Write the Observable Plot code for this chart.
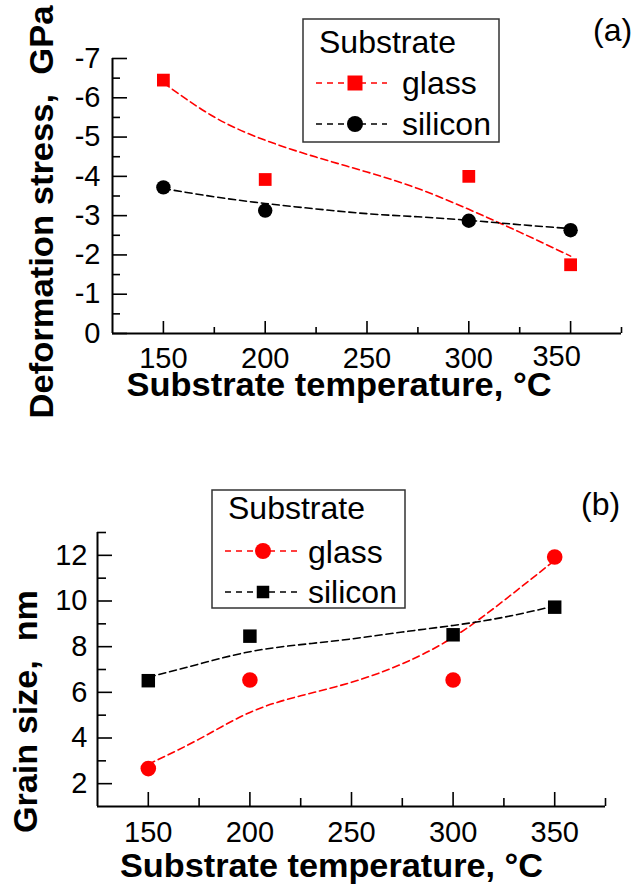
<!DOCTYPE html>
<html><head><meta charset="utf-8">
<script src="https://cdn.jsdelivr.net/npm/d3@7"></script>
<script src="https://cdn.jsdelivr.net/npm/@observablehq/plot@0.6"></script>
<style>
html,body{margin:0;padding:0;background:#fff;}
#wrap{position:relative;width:634px;height:884px;overflow:hidden;font-family:"Liberation Sans",Arial,sans-serif;background:#fff;}
.panel{position:absolute;left:0;}
.panel svg{display:block;}
#overlay{position:absolute;left:0;top:0;pointer-events:none;}
</style></head><body><div id="wrap"></div>
<script>
// ---- data ----
const temps = [150, 200, 300, 350];
const stressGlass = [-6.45, -3.92, -4.0, -1.75];
const stressSilicon = [-3.72, -3.13, -2.87, -2.63];
const fitTemps = [150, 175, 200, 225, 250, 275, 300, 325, 350];
const stressGlassFit = [-6.38, -5.51, -4.92, -4.49, -4.11, -3.69, -3.16, -2.58, -1.97];
const stressSiliconFit = [-3.69, -3.48, -3.31, -3.17, -3.05, -2.97, -2.88, -2.77, -2.67];
const grainGlass = [2.66, 6.54, 6.54, 11.93];
const grainSilicon = [6.51, 8.46, 8.52, 9.73];
const grainGlassFit = [2.85, 3.95, 5.12, 5.85, 6.44, 7.25, 8.41, 10.02, 11.78];
const grainSiliconFit = [6.66, 7.24, 7.78, 8.09, 8.34, 8.64, 8.93, 9.29, 9.78];
const xDomain = [125, 375];
const xTicks = [150, 200, 250, 300, 350];
const xMinor = [175, 225, 275, 325, 375];
const stressTicks = [0, -1, -2, -3, -4, -5, -6, -7];
const stressMinor = [-0.5, -1.5, -2.5, -3.5, -4.5, -5.5, -6.5];
const grainTicks = [2, 4, 6, 8, 10, 12];
const grainMinor = [3, 5, 7, 9, 11, 13];
const xTitle = "Substrate temperature, \u00B0C";
const stressTitle = "Deformation stress,  GPa";
const grainTitle = "Grain size,  nm";
const seriesNames = ["glass", "silicon"];
const legendTitle = "Substrate";

const RED = "#ff0000", BLACK = "#000000";
const rows = (xs, ys) => xs.map((x, i) => ({x, y: ys[i]}));
const FONT = "'Liberation Sans', Arial, sans-serif";

function panel(o) {
  const mainX = o.shiftLast ? xTicks.slice(0, -1) : xTicks;
  const marks = [
    Plot.ruleX([xDomain[0]], {stroke: BLACK, strokeWidth: 2}),
    Plot.ruleY([o.yDomain[0]], {stroke: BLACK, strokeWidth: 2}),
    Plot.axisX({ticks: xTicks, tickSize: -o.xMajor, tickFormat: () => "", strokeWidth: 1.6, label: null}),
    Plot.axisX({ticks: xMinor, tickSize: -o.xMinorLen, tickFormat: () => "", strokeWidth: 1.6, label: null}),
    Plot.axisY({ticks: o.yTicks, tickSize: -o.yMajor, tickFormat: () => "", strokeWidth: 1.6, label: null}),
    Plot.axisY({ticks: o.yMinor, tickSize: -o.yMinorLen, tickFormat: () => "", strokeWidth: 1.6, label: null}),
    Plot.axisX({ticks: mainX, tickSize: 0, tickPadding: o.xPad, fontSize: o.tickFont, tickFormat: d => String(d), label: null}),
    Plot.axisY({ticks: o.yTicks, tickSize: 0, tickPadding: o.yPad, fontSize: o.tickFont, tickFormat: d => String(d), label: null}),
    Plot.line(rows(fitTemps, o.glassFit), {x: "x", y: "y", curve: "natural", stroke: RED, strokeWidth: 1.6, strokeDasharray: "7,4"}),
    Plot.line(rows(fitTemps, o.siliconFit), {x: "x", y: "y", curve: "natural", stroke: BLACK, strokeWidth: 1.6, strokeDasharray: "7,4"}),
    Plot.dot(rows(temps, o.glass), {x: "x", y: "y", symbol: o.glassSym, r: o.glassR, fill: RED, stroke: "none"}),
    Plot.dot(rows(temps, o.silicon), {x: "x", y: "y", symbol: o.siliconSym, r: o.siliconR, fill: BLACK, stroke: "none"}),
    Plot.text([xTitle], {text: d => d, frameAnchor: "bottom", textAnchor: "middle", dx: o.xtDx, dy: o.xtDy, lineAnchor: "bottom", fontSize: 33, fontWeight: "bold", fill: BLACK}),
    Plot.text([o.yTitle], {text: d => d, frameAnchor: "left", textAnchor: "middle", rotate: -90, dx: o.ytDx, dy: o.ytDy, lineAnchor: "bottom", fontSize: 34, fontWeight: "bold", fill: BLACK})
  ];
  if (o.shiftLast) {
    // the last tick label sits slightly left of and above its tick in the reference
    marks.push(Plot.text(xTicks.slice(-1), {x: d => d, y: () => o.yDomain[0], text: d => String(d),
      textAnchor: "middle", lineAnchor: "top", dx: -14, dy: o.xPad - 2, fontSize: o.tickFont, fill: BLACK}));
  }
  const svg = Plot.plot({
    width: 634, height: o.height,
    marginLeft: o.ml, marginRight: o.mr, marginTop: o.mt, marginBottom: o.mb,
    style: {fontFamily: FONT, color: BLACK, background: "transparent", overflow: "visible"},
    x: {domain: xDomain, axis: null},
    y: {domain: o.yDomain, axis: null},
    marks
  });
  d3.select(svg).selectAll("text").each(function () {
    const t = this.textContent;
    if (t === xTitle) d3.select(this).attr("textLength", o.xtLen).attr("lengthAdjust", "spacingAndGlyphs");
    if (t === o.yTitle) d3.select(this).attr("textLength", o.ytLen).attr("lengthAdjust", "spacingAndGlyphs");
  });
  const div = document.createElement("div");
  div.className = "panel";
  div.style.top = o.top + "px";
  div.appendChild(svg);
  document.getElementById("wrap").appendChild(div);
}

panel({
  top: 0, height: 430, ml: 112, mr: 13, mt: 58, mb: 97,
  yDomain: [0, -7], yTicks: stressTicks, yMinor: stressMinor,
  xMajor: 12, xMinorLen: 6, yMajor: 15, yMinorLen: 8, xPad: 14, yPad: 12, tickFont: 29, shiftLast: true,
  glass: stressGlass, silicon: stressSilicon, glassFit: stressGlassFit, siliconFit: stressSiliconFit,
  glassSym: "square", glassR: 7.2, siliconSym: "circle", siliconR: 7.2,
  yTitle: stressTitle, xtDx: -28, xtDy: 62, xtLen: 425, ytDx: -60, ytDy: 16, ytLen: 413
});
panel({
  top: 430, height: 454, ml: 97, mr: 29, mt: 102, mb: 78,
  yDomain: [1, 13], yTicks: grainTicks, yMinor: grainMinor,
  xMajor: 14, xMinorLen: 8, yMajor: 15, yMinorLen: 9, xPad: 15, yPad: 10, tickFont: 29, shiftLast: false,
  glass: grainGlass, silicon: grainSilicon, glassFit: grainGlassFit, siliconFit: grainSiliconFit,
  glassSym: "circle", glassR: 7.8, siliconSym: "square", siliconR: 7.6,
  yTitle: grainTitle, xtDx: -20, xtDy: 70, xtLen: 423, ytDx: -61, ytDy: 42, ytLen: 243
});

// ---- legends and panel tags (overlay) ----
const ov = d3.select("#wrap").append("svg").attr("id", "overlay").attr("width", 634).attr("height", 884)
  .style("font-family", FONT);
function legend(L) {
  const g = ov.append("g");
  g.append("rect").attr("x", L.x0).attr("y", L.y0).attr("width", L.x1 - L.x0).attr("height", L.y1 - L.y0)
    .attr("fill", "#fff").attr("stroke", "#333").attr("stroke-width", 1.5);
  g.append("text").attr("x", L.tx).attr("y", L.ty).attr("font-size", 32).text(legendTitle);
  L.items.forEach((it, i) => {
    g.append("line").attr("x1", L.lx0).attr("x2", L.lx1).attr("y1", it.y).attr("y2", it.y)
      .attr("stroke", it.color).attr("stroke-width", 1.5).attr("stroke-dasharray", "6,5");
    const area = it.sym === "square" ? it.size * it.size : Math.PI * it.size * it.size / 4;
    g.append("path").attr("d", d3.symbol(it.sym === "square" ? d3.symbolSquare : d3.symbolCircle, area)())
      .attr("transform", `translate(${L.mx},${it.y})`).attr("fill", it.color);
    g.append("text").attr("x", L.textX).attr("y", it.base).attr("font-size", 32).text(seriesNames[i]);
  });
}
legend({x0: 303, x1: 499, y0: 19, y1: 142, tx: 319, ty: 53, lx0: 316, lx1: 387, mx: 355, textX: 402,
  items: [{color: RED, sym: "square", size: 15, y: 83, base: 94}, {color: BLACK, sym: "circle", size: 16, y: 124, base: 135}]});
legend({x0: 212, x1: 405, y0: 490, y1: 608, tx: 228, ty: 519, lx0: 225, lx1: 298, mx: 263, textX: 308,
  items: [{color: RED, sym: "circle", size: 16, y: 551, base: 563}, {color: BLACK, sym: "square", size: 12.5, y: 592, base: 603}]});
ov.append("text").attr("x", 593).attr("y", 41).attr("font-size", 32).text("(a)");
ov.append("text").attr("x", 581).attr("y", 515).attr("font-size", 32).text("(b)");
</script></body></html>
